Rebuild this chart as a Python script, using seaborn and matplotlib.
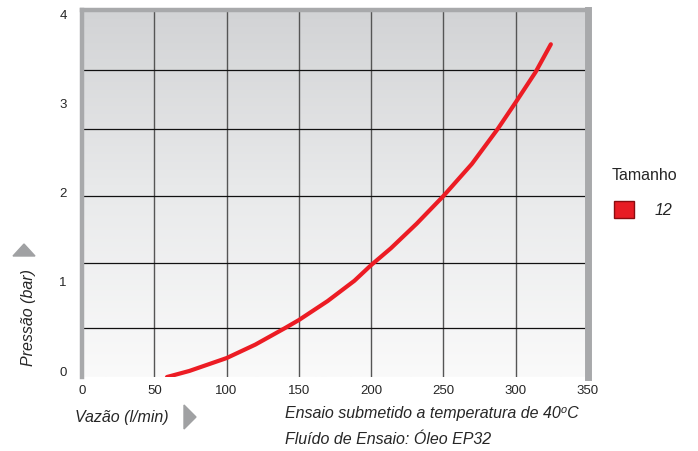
import numpy as np
import pandas as pd
import matplotlib
matplotlib.use("Agg")
import matplotlib.pyplot as plt
from matplotlib.colors import LinearSegmentedColormap
from matplotlib.patches import Polygon, Rectangle
import seaborn as sns

# curve (flow l/min, pressure bar)
vazao = [58.8, 74.3, 100, 119.9, 140.4, 150, 169.9, 188.4, 200, 213.7,
         231.5, 250, 269.7, 287.5, 300, 313.8, 324.3]
pressao = [-0.078, -0.01, 0.134, 0.285, 0.47, 0.56, 0.773, 1.00, 1.176, 1.365,
           1.64, 1.95, 2.31, 2.70, 3.00, 3.34, 3.65]

x_ticks = [0, 50, 100, 150, 200, 250, 300, 350]
y_ticks = [0, 1, 2, 3, 4]
x_grid = [50, 100, 150, 200, 250, 300]
y_grid = [0.47, 1.20, 1.95, 2.70, 3.36]   # grid rows as drawn in the original

df = pd.DataFrame({"vazao": vazao, "pressao": pressao})

sns.set_style("white")
plt.rcParams["font.family"] = ["Liberation Sans", "DejaVu Sans"]

W, H = 698, 452
fig = plt.figure(figsize=(W / 100, H / 100), dpi=100)

def fx(px):
    return px / W

def fy(py):
    return 1 - py / H

ax = fig.add_axes([fx(82), fy(378), (588 - 82) / W, (378 - 11) / H])
ylo, yhi = -0.078, 4.034
ax.set_xlim(0, 350)
ax.set_ylim(ylo, yhi)

# gray gradient background
cmap = LinearSegmentedColormap.from_list("bg", ["#d2d3d5", "#e9eaeb", "#fafafa"])
ax.imshow(np.linspace(0, 1, 256).reshape(-1, 1), cmap=cmap, aspect="auto",
          extent=[0, 350, ylo, yhi], origin="upper", zorder=0)

for gx in x_grid:
    ax.axvline(gx, color="#555555", lw=1.0, zorder=1)
for gy in y_grid:
    ax.axhline(gy, color="#111111", lw=0.9, zorder=1)

sns.lineplot(data=df, x="vazao", y="pressao", color="#ec1c24", linewidth=3.0,
             ax=ax, zorder=3, sort=False)

ax.set_xlabel("")
ax.set_ylabel("")
ax.set_xticks(x_ticks)
ax.set_xticklabels([str(t) for t in x_ticks], fontsize=9.5)
ax.set_yticks(y_ticks)
ax.set_yticklabels([str(t) for t in y_ticks], fontsize=9.5)
ax.tick_params(axis="x", length=0, pad=5)
ax.tick_params(axis="y", length=0, pad=11)

for side in ["left", "top"]:
    ax.spines[side].set_color("#a8a9ab")
    ax.spines[side].set_linewidth(3.2)
ax.spines["right"].set_color("#a8a9ab")
ax.spines["right"].set_linewidth(5.0)
ax.spines["bottom"].set_visible(False)

# axis titles with arrows
fig.text(fx(28), fy(318), "Pressão (bar)", rotation=90, style="italic",
         fontsize=11.5, ha="center", va="center")
fig.patches.append(Polygon([[fx(13), fy(257)], [fx(35), fy(257)], [fx(24), fy(245)]],
                           closed=True, transform=fig.transFigure, color="#a0a1a3"))
fig.text(fx(75), fy(418), "Vazão (l/min)", style="italic", fontsize=11.5,
         ha="left", va="center")
fig.patches.append(Polygon([[fx(184), fy(406)], [fx(184), fy(430)], [fx(196), fy(418)]],
                           closed=True, transform=fig.transFigure, color="#a0a1a3"))

# test notes
fig.text(fx(285), fy(414), "Ensaio submetido a temperatura de 40⁰C", style="italic",
         fontsize=11.5, ha="left", va="center")
fig.text(fx(285), fy(440), "Fluído de Ensaio: Óleo EP32", style="italic",
         fontsize=11.5, ha="left", va="center")

# legend
fig.text(fx(612), fy(175), "Tamanho", fontsize=11.5, ha="left", va="center")
fig.patches.append(Rectangle((fx(614), fy(219)), 20 / W, 17 / H,
                             transform=fig.transFigure, facecolor="#e81c24",
                             edgecolor="#8a0c10", lw=1.0))
fig.text(fx(655), fy(211), "12", style="italic", fontsize=11.5, ha="left", va="center")

fig.savefig("out.png", dpi=100)
